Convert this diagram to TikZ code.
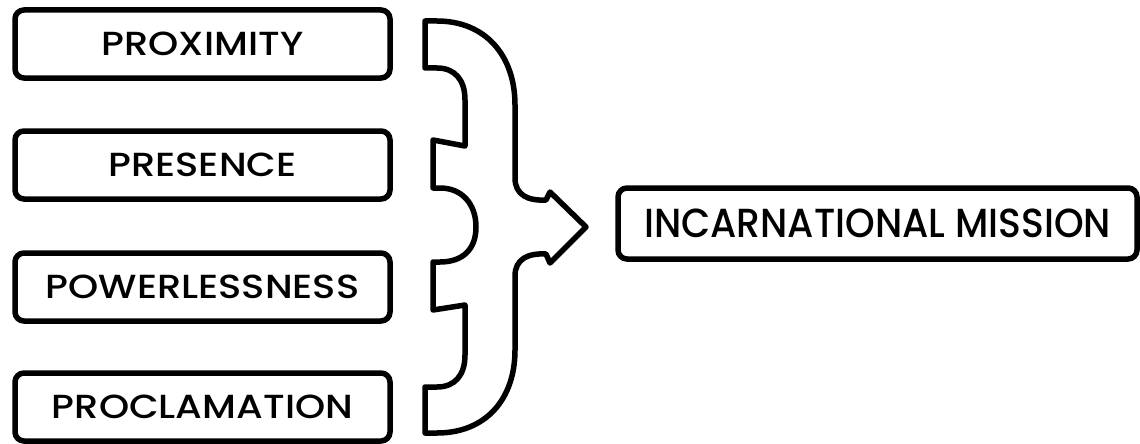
\documentclass[tikz,border=0pt]{standalone}
\usepackage{fontspec}
\newfontfamily\popL{Poppins Medium}[FakeStretch=1.15]
\newfontfamily\popR{Poppins Medium}[FakeStretch=0.93]
\begin{document}
\begin{tikzpicture}[x=1pt,y=-1pt,
  item/.style={draw=black,line width=5.5pt,rounded corners=9pt,minimum width=375pt,minimum height=68pt,inner sep=0pt,font=\popL\fontsize{33.4}{33.4}\selectfont,text=black},
  goal/.style={draw=black,line width=5.5pt,rounded corners=9pt,minimum width=519pt,minimum height=71pt,inner sep=0pt,font=\popR\fontsize{40.6}{40.6}\selectfont,text=black},
  bracestyle/.style={draw=black,line width=5.5pt,line join=round}]
\useasboundingbox (0,0) rectangle (1140,444);
\node[item] (p1) at (202.5,44) {PROXIMITY};
\node[item] (p2) at (202.5,165) {PRESENCE};
\node[item] (p3) at (202.5,287) {POWERLESSNESS};
\node[item] (p4) at (202.5,407) {PROCLAMATION};
\node[goal] (m) at (877.5,223.5) {INCARNATIONAL MISSION};
\draw[bracestyle] (425,21) -- (437,21) .. controls (485,21) and (515,55) .. (515,105)
  -- (515,178) .. controls (515,195) and (528,201) .. (546,200) -- (550,192) -- (586,227)
  -- (550,263) -- (546,254) .. controls (528,253) and (515,259) .. (515,276)
  -- (515,350) .. controls (515,400) and (485,433) .. (437,433) -- (425,433) -- (425,387)
  -- (437,387) .. controls (455,387) and (465,375) .. (465,355) -- (465,305) -- (433,310)
  -- (433,262) -- (440,262) .. controls (462,262) and (476,250) .. (476,227)
  .. controls (476,204) and (462,188) .. (440,188) -- (433,188) -- (433,140) -- (465,146)
  -- (465,100) .. controls (465,80) and (455,68) .. (437,68) -- (425,68) -- cycle;
\end{tikzpicture}
\end{document}
